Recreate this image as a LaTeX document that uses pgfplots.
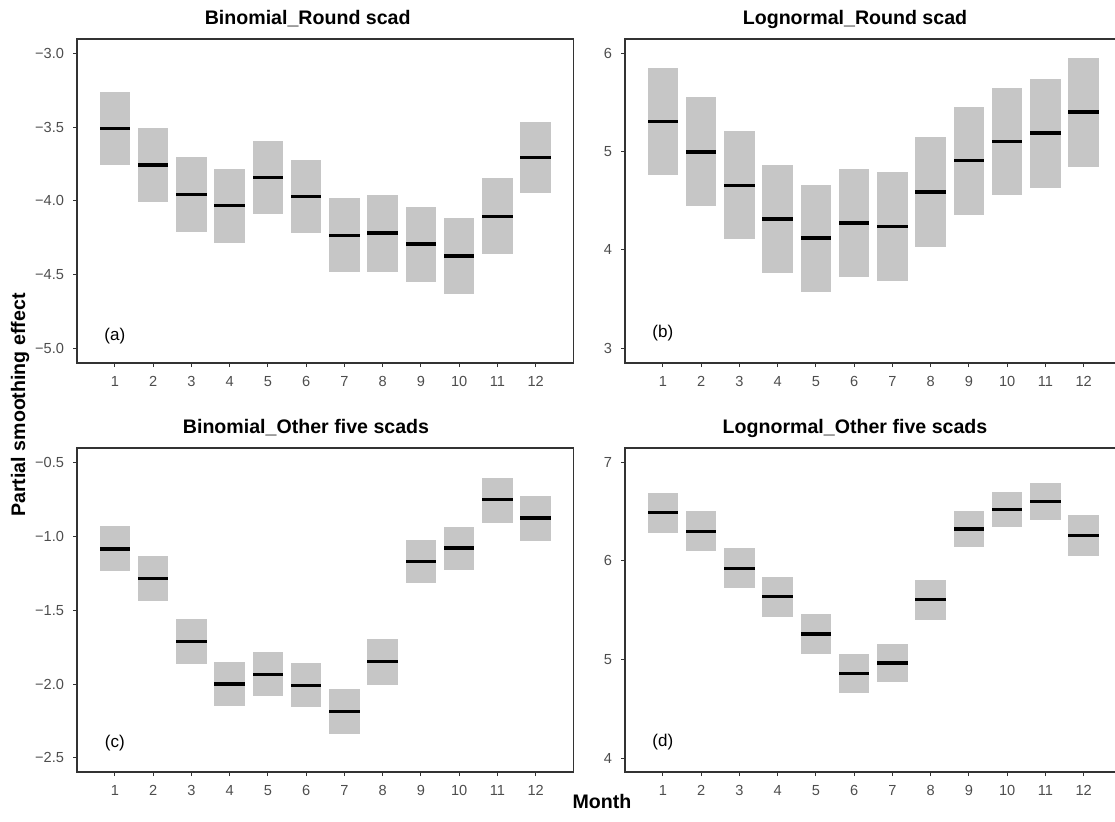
\documentclass[border=0pt]{standalone}
\usepackage{fontspec}
\setmainfont{Liberation Sans}
\usepackage{pgfplots}
\usepackage{pgfplotstable}
\pgfplotsset{compat=1.18}

\definecolor{boxgray}{HTML}{C6C6C6}
\definecolor{framegray}{HTML}{333333}
\definecolor{tickgray}{HTML}{4D4D4D}

% x = month, mid = estimate, lo/hi = interval
\pgfplotstableread{
x mid lo hi
1 -3.508 -3.757 -3.260
2 -3.757 -4.008 -3.504
3 -3.956 -4.209 -3.705
4 -4.033 -4.284 -3.784
5 -3.841 -4.089 -3.597
6 -3.969 -4.216 -3.721
7 -4.234 -4.480 -3.979
8 -4.218 -4.480 -3.960
9 -4.293 -4.548 -4.040
10 -4.374 -4.632 -4.119
11 -4.105 -4.358 -3.847
12 -3.705 -3.949 -3.466
}\tabA

\pgfplotstableread{
x mid lo hi
1 5.305 4.763 5.847
2 4.997 4.447 5.553
3 4.658 4.108 5.210
4 4.315 3.763 4.861
5 4.122 3.576 4.664
6 4.275 3.729 4.820
7 4.237 3.688 4.790
8 4.590 4.027 5.153
9 4.908 4.353 5.458
10 5.105 4.563 5.644
11 5.190 4.634 5.739
12 5.403 4.847 5.956
}\tabB

\pgfplotstableread{
x mid lo hi
1 -1.086 -1.237 -0.933
2 -1.285 -1.436 -1.134
3 -1.711 -1.864 -1.562
4 -1.999 -2.148 -1.853
5 -1.936 -2.083 -1.783
6 -2.008 -2.157 -1.855
7 -2.187 -2.338 -2.036
8 -1.848 -2.006 -1.693
9 -1.172 -1.316 -1.023
10 -1.079 -1.226 -0.937
11 -0.753 -0.910 -0.604
12 -0.877 -1.032 -0.730
}\tabC

\pgfplotstableread{
x mid lo hi
1 6.489 6.286 6.692
2 6.300 6.097 6.503
3 5.925 5.722 6.131
4 5.637 5.431 5.840
5 5.258 5.052 5.461
6 4.859 4.660 5.059
7 4.964 4.771 5.160
8 5.607 5.397 5.809
9 6.324 6.138 6.503
10 6.523 6.340 6.702
11 6.604 6.412 6.790
12 6.259 6.053 6.462
}\tabD

\pgfplotsset{
  panel/.style={
    scale only axis, width=248.25pt, height=162pt,
    xmin=0.01, xmax=12.99,
    xtick={1,2,3,4,5,6,7,8,9,10,11,12},
    xticklabels={1,2,3,4,5,6,7,8,9,10,11,12},
    tick align=outside, xtick pos=bottom, ytick pos=left,
    major tick length=2pt,
    axis line style={draw=framegray, line width=0.6pt},
    every tick/.style={draw=framegray, line width=0.5pt},
    ticklabel style={font=\fontsize{7.3}{8}\selectfont, text=tickgray},
    xticklabel style={yshift=-1pt},
    yticklabel style={xshift=-1pt},
    anchor=south west,
  },
  boxes/.style={draw=none, no markers, forget plot,
    error bars/y dir=both, error bars/y explicit, error bars/error mark=none,
    error bars/error bar style={line width=15.3pt, draw=boxgray, line cap=butt}},
  medians/.style={draw=none, no markers, forget plot,
    error bars/x dir=both, error bars/x fixed=0.4, error bars/error mark=none,
    error bars/error bar style={line width=1.65pt, draw=black, line cap=butt}},
}

\newcommand{\panelplots}[1]{%
  \addplot[boxes] table[x=x, y=mid,
    y error plus expr=\thisrow{hi}-\thisrow{mid},
    y error minus expr=\thisrow{mid}-\thisrow{lo}] {#1};
  \addplot[medians] table[x=x, y=mid] {#1};
}

\begin{document}
\begin{tikzpicture}
\useasboundingbox (0,0) rectangle (557.5pt,410.5pt);

% (a)
\begin{axis}[panel, at={(38.5pt,229pt)},
  ymin=-5.10, ymax=-2.903,
  ytick={-5,-4.5,-4,-3.5,-3},
  yticklabels={−5.0,−4.5,−4.0,−3.5,−3.0}]
  \panelplots{\tabA}
  \node[font=\fontsize{8.5}{10}\selectfont, text=black] at (axis cs:1,-4.916) {(a)};
\end{axis}

% (b)
\begin{axis}[panel, at={(312.5pt,229pt)},
  ymin=2.85, ymax=6.146,
  ytick={3,4,5,6},
  yticklabels={3,4,5,6}]
  \panelplots{\tabB}
  \node[font=\fontsize{8.5}{10}\selectfont, text=black] at (axis cs:1,3.15) {(b)};
\end{axis}

% (c)
\begin{axis}[panel, at={(38.5pt,24.5pt)},
  ymin=-2.595, ymax=-0.403,
  ytick={-2.5,-2,-1.5,-1,-0.5},
  yticklabels={−2.5,−2.0,−1.5,−1.0,−0.5}]
  \panelplots{\tabC}
  \node[font=\fontsize{8.5}{10}\selectfont, text=black] at (axis cs:1,-2.40) {(c)};
\end{axis}

% (d)
\begin{axis}[panel, at={(312.5pt,24.5pt)},
  ymin=3.858, ymax=7.145,
  ytick={4,5,6,7},
  yticklabels={4,5,6,7}]
  \panelplots{\tabD}
  \node[font=\fontsize{8.5}{10}\selectfont, text=black] at (axis cs:1,4.16) {(d)};
\end{axis}

% titles
\node[anchor=base, font=\bfseries\fontsize{9.8}{11}\selectfont] at (153.85pt,398pt) {Binomial\_Round scad};
\node[anchor=base, font=\bfseries\fontsize{9.8}{11}\selectfont] at (427.5pt,398pt) {Lognormal\_Round scad};
\node[anchor=base, font=\bfseries\fontsize{9.8}{11}\selectfont] at (153pt,193.5pt) {Binomial\_Other five scads};
\node[anchor=base, font=\bfseries\fontsize{9.8}{11}\selectfont] at (427.5pt,193.5pt) {Lognormal\_Other five scads};
% axis titles
\node[anchor=base, font=\bfseries\fontsize{9.8}{11}\selectfont] at (301pt,6.5pt) {Month};
\node[rotate=90, font=\bfseries\fontsize{9.8}{11}\selectfont] at (10pt,208pt) {Partial smoothing effect};
\end{tikzpicture}
\end{document}
